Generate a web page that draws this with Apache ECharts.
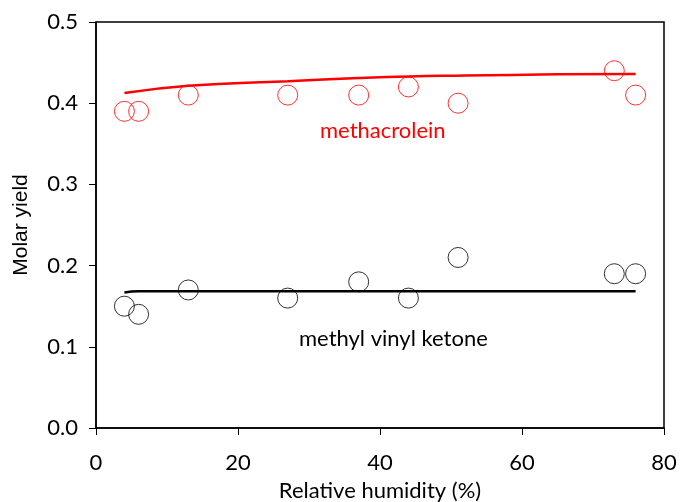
<!DOCTYPE html>
<html><head><meta charset="utf-8">
<script src="https://cdn.jsdelivr.net/npm/echarts@6/dist/echarts.min.js"></script>
<style>html,body{margin:0;padding:0;background:#fff}#c{width:680px;height:502px}</style>
</head><body><div id="c"></div>
<script>
const humidity = [4, 6, 13, 27, 37, 44, 51, 73, 76];
const methacroleinYield = [0.39, 0.39, 0.41, 0.41, 0.41, 0.42, 0.40, 0.44, 0.41];
const mvkYield = [0.15, 0.14, 0.17, 0.16, 0.18, 0.16, 0.21, 0.19, 0.19];
const methFitX = [4, 13, 27, 37, 44, 52, 65, 76];
const methFitY = [0.4125, 0.4215, 0.427, 0.431, 0.433, 0.434, 0.4355, 0.436];
const mvkFitX = [4, 6, 13, 27, 76];
const mvkFitY = [0.167, 0.1683, 0.1685, 0.1685, 0.1685];
const xTicks = [0, 20, 40, 60, 80];
const yTicks = [0.0, 0.1, 0.2, 0.3, 0.4, 0.5];

const zip = (a, b) => a.map((v, i) => [v, b[i]]);
const tickFont = 'Lato, "Open Sans", sans-serif';
const chart = echarts.init(document.getElementById('c'), null, {renderer: 'canvas'});
chart.setOption({
  animation: false,
  backgroundColor: '#fff',
  grid: {left: 96, right: 16, top: 22, bottom: 74, containLabel: false, outerBoundsMode: 'none'},
  xAxis: {
    type: 'value', min: xTicks[0], max: xTicks[xTicks.length - 1], interval: 20,
    name: 'Relative humidity (%)', nameLocation: 'middle', nameGap: 52,
    nameTextStyle: {fontSize: 22, color: '#000', fontFamily: tickFont},
    axisLine: {show: true, onZero: false, lineStyle: {color: '#000', width: 1.5}},
    axisTick: {show: true, inside: false, length: 7, lineStyle: {color: '#000', width: 1}},
    axisLabel: {fontSize: 22, color: '#000', fontFamily: tickFont, margin: 24},
    splitLine: {show: false}
  },
  yAxis: {
    type: 'value', min: 0, max: 0.5, interval: 0.1,
    name: 'Molar yield', nameLocation: 'middle', nameGap: 64,
    nameTextStyle: {fontSize: 21, color: '#000', fontFamily: '"Liberation Sans", Arial, sans-serif'},
    axisLine: {show: true, onZero: false, lineStyle: {color: '#000', width: 1.5}},
    axisTick: {show: true, inside: false, length: 7, lineStyle: {color: '#000', width: 1}},
    axisLabel: {fontSize: 22, color: '#000', fontFamily: tickFont, margin: 18,
      formatter: v => v.toFixed(1)},
    splitLine: {show: false}
  },
  graphic: [
    {type: 'rect', shape: {x: 96, y: 22, width: 568, height: 406}, style: {fill: 'none', stroke: '#000', lineWidth: 1.5}, silent: true, z: 10},
    {type: 'text', left: 320, top: 120, style: {text: 'methacrolein', fontSize: 22, fill: '#ff0000', fontFamily: tickFont}},
    {type: 'text', left: 299, top: 328, style: {text: 'methyl vinyl ketone', fontSize: 22, fill: '#000', fontFamily: tickFont}}
  ],
  series: [
    {type: 'line', data: zip(methFitX, methFitY), smooth: true, showSymbol: false,
      lineStyle: {color: '#ff0000', width: 2.5}, z: 3},
    {type: 'line', data: zip(mvkFitX, mvkFitY), smooth: true, showSymbol: false,
      lineStyle: {color: '#000', width: 2.5}, z: 3},
    {type: 'scatter', data: zip(humidity, methacroleinYield), symbol: 'circle', symbolSize: 20,
      itemStyle: {color: 'rgba(0,0,0,0)', borderColor: '#ff0000', borderWidth: 1}, z: 4},
    {type: 'scatter', data: zip(humidity, mvkYield), symbol: 'circle', symbolSize: 20,
      itemStyle: {color: 'rgba(0,0,0,0)', borderColor: '#000', borderWidth: 1}, z: 4}
  ]
});
</script></body></html>
